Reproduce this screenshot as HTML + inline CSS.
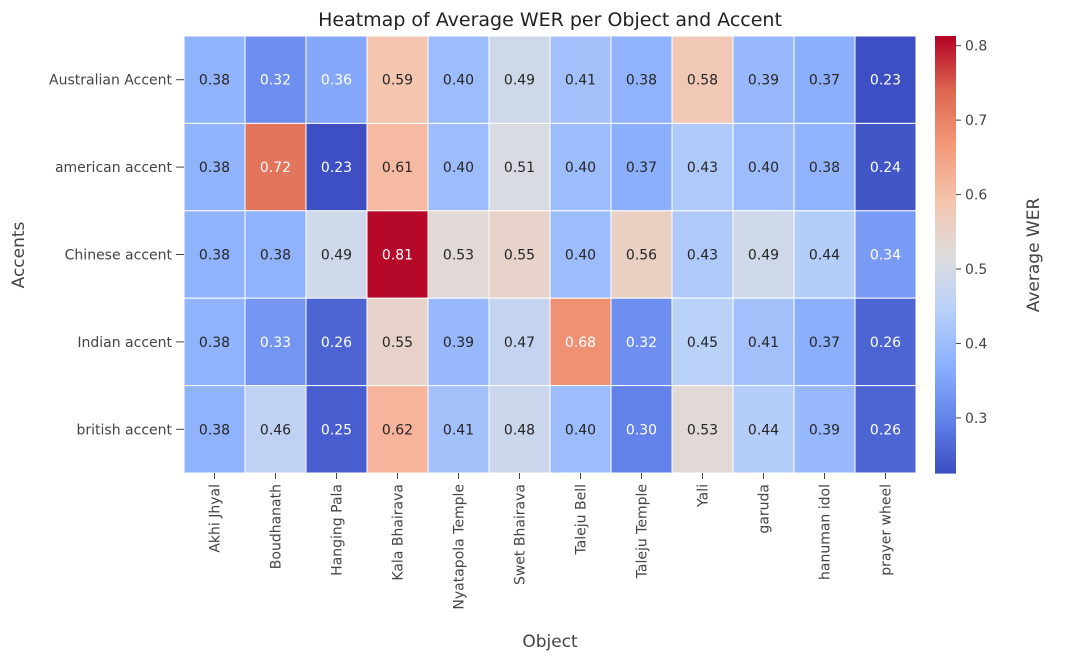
<!DOCTYPE html>
<html><head><meta charset="utf-8"><style>
body{margin:0;background:#fff;font-family:"Liberation Sans","DejaVu Sans",sans-serif}
svg text{font-family:"DejaVu Sans","Liberation Sans",sans-serif}
</style></head><body>
<svg id="chart" width="1076" height="666" xmlns="http://www.w3.org/2000/svg">
<text x="550" y="26" text-anchor="middle" font-size="19" fill="#222">Heatmap of Average WER per Object and Accent</text>
<g id="cells"></g><g id="ylabels"></g><g id="xlabels"></g><g id="cbar"></g>
<text transform="translate(24,255) rotate(-90)" text-anchor="middle" font-size="17" fill="#444">Accents</text>
<text x="550" y="647" text-anchor="middle" font-size="17" fill="#444">Object</text>
<text transform="translate(1039,255) rotate(-90)" text-anchor="middle" font-size="17" fill="#444">Average WER</text>
</svg>
<script>
const objects=["Akhi Jhyal","Boudhanath","Hanging Pala","Kala Bhairava","Nyatapola Temple","Swet Bhairava","Taleju Bell","Taleju Temple","Yali","garuda","hanuman idol","prayer wheel"];
const accents=["Australian Accent","american accent","Chinese accent","Indian accent","british accent"];
const rowAustralian=[0.38,0.32,0.36,0.59,0.40,0.49,0.41,0.38,0.58,0.39,0.37,0.23];
const rowAmerican=[0.38,0.72,0.23,0.61,0.40,0.51,0.40,0.37,0.43,0.40,0.38,0.24];
const rowChinese=[0.38,0.38,0.49,0.81,0.53,0.55,0.40,0.56,0.43,0.49,0.44,0.34];
const rowIndian=[0.38,0.33,0.26,0.55,0.39,0.47,0.68,0.32,0.45,0.41,0.37,0.26];
const rowBritish=[0.38,0.46,0.25,0.62,0.41,0.48,0.40,0.30,0.53,0.44,0.39,0.26];
const values=[rowAustralian,rowAmerican,rowChinese,rowIndian,rowBritish];
const cbarTicks=[0.3,0.4,0.5,0.6,0.7,0.8];
const NS="http://www.w3.org/2000/svg";
const X0=184,X1=916,Y0=36,Y1=473;
const all=values.flat();const vmin=Math.min(...all)-0.004,vmax=Math.max(...all)+0.003;
const cw=(X1-X0)/objects.length,ch=(Y1-Y0)/accents.length;
const xs=i=>X0+i*cw, ys=j=>Y0+j*ch;
const stops=[[0,59,76,192],[0.125,98,130,234],[0.25,141,176,254],[0.375,184,208,249],[0.5,221,221,221],[0.625,245,196,173],[0.75,244,154,123],[0.875,221,104,82],[1,180,4,38]];
function cmap(t){t=Math.max(0,Math.min(1,t));for(let k=1;k<stops.length;k++){if(t<=stops[k][0]){const a=stops[k-1],b=stops[k],f=(t-a[0])/(b[0]-a[0]);return [1,2,3].map(i=>Math.round(a[i]+(b[i]-a[i])*f));}}return stops[8].slice(1);}
const norm=v=>(v-vmin)/(vmax-vmin);
function lum(c){const l=c.map(x=>{x/=255;return x<=0.03928?x/12.92:Math.pow((x+0.055)/1.055,2.4)});return 0.2126*l[0]+0.7152*l[1]+0.0722*l[2];}
function mk(tag,attrs,parent,txt){const e=document.createElementNS(NS,tag);for(const k in attrs)e.setAttribute(k,attrs[k]);if(txt!==undefined)e.textContent=txt;parent.appendChild(e);return e;}
const cells=document.getElementById('cells');
values.forEach((row,j)=>row.forEach((v,i)=>{
 const c=cmap(norm(v));
 const r=mk('rect',{x:xs(i),y:ys(j),width:cw,height:ch,fill:`rgb(${c})`,stroke:'#fff','stroke-width':1},cells);
 
 
 const t=mk('text',{x:xs(i)+cw/2,y:ys(j)+ch/2+5,'text-anchor':'middle','font-size':14,fill:lum(c)>0.408?'#262626':'#fff'},cells,v.toFixed(2));
 
 
}));
const yl=document.getElementById('ylabels');
accents.forEach((a,j)=>{
 const t=mk('text',{x:172,y:ys(j)+ch/2+5,'text-anchor':'end','font-size':14,fill:'#444'},yl,a);
 
 
 mk('line',{x1:176,x2:X0,y1:ys(j)+ch/2,y2:ys(j)+ch/2,stroke:'#444'},yl);
});
const xl=document.getElementById('xlabels');
objects.forEach((o,i)=>{
 const cx=xs(i)+cw/2;
 mk('line',{x1:cx,x2:cx,y1:Y1,y2:Y1+6,stroke:'#444'},xl);
 const t=mk('text',{transform:`translate(${cx+5},${Y1+11}) rotate(-90)`,'text-anchor':'end','font-size':14,fill:'#444'},xl,o);
 
 
});
const cb=document.getElementById('cbar');
const CX=935,CW=21,N=200;
for(let k=0;k<N;k++){const y=Y0+k*(Y1-Y0)/N;const c=cmap(1-k/N);
 const r=mk('rect',{x:CX,y:y,width:CW,height:(Y1-Y0)/N+0.6,fill:`rgb(${c})`},cb);
 
 }
const cy=v=>Y1-(v-vmin)/(vmax-vmin)*(Y1-Y0);
cbarTicks.forEach(v=>{
 mk('line',{x1:CX+CW,x2:CX+CW+5,y1:cy(v),y2:cy(v),stroke:'#444'},cb);
 const t=mk('text',{x:CX+CW+9,y:cy(v)+5,'font-size':14,fill:'#444'},cb,v.toFixed(1));
 
 
});
</script>
</body></html>
